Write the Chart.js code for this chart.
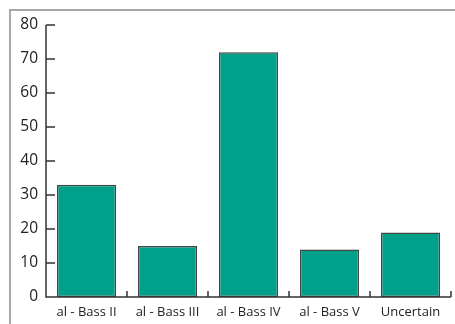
<!DOCTYPE html>
<html><head><meta charset="utf-8">
<script src="https://cdn.jsdelivr.net/npm/chart.js@4"></script>
<style>
html,body{margin:0;padding:0;background:#fff;overflow:hidden;}
#wrap{position:relative;width:455px;height:324px;}
#frame{position:absolute;left:9px;top:9px;width:500px;height:400px;border-left:2px solid #a8a8a8;border-top:2px solid #a8a8a8;pointer-events:none;}
canvas{position:absolute;left:0;top:0;}
</style></head>
<body><div id="wrap"><canvas id="c" width="455" height="324"></canvas><div id="frame"></div></div>
<script>
const categories = ["al - Bass II","al - Bass III","al - Bass IV","al - Bass V","Uncertain"];
const values = [33, 15, 72, 14, 19];
const yTicks = [0,10,20,30,40,50,60,70,80];

const innerTicks = {
  id:'innerTicks',
  afterDraw(chart){
    const ctx = chart.ctx, x = chart.scales.x, y = chart.scales.y;
    ctx.save();
    ctx.strokeStyle = '#333'; ctx.lineWidth = 1.5;
    ctx.beginPath();
    ctx.moveTo(x.left, y.top); ctx.lineTo(x.left, y.bottom); ctx.lineTo(x.right, y.bottom);
    yTicks.forEach(v=>{ const py = y.getPixelForValue(v); ctx.moveTo(x.left, py); ctx.lineTo(x.left+9, py); });
    const w = (x.right - x.left)/categories.length;
    categories.forEach((c,i)=>{ const px = x.getPixelForValue(i) + w/2; ctx.moveTo(px, y.bottom); ctx.lineTo(px, y.bottom-6); });
    ctx.stroke();
    ctx.restore();
  }
};

new Chart(document.getElementById('c'), {
  type:'bar',
  data:{ labels:categories, datasets:[{ data:values, backgroundColor:'#00a08b', borderColor:'#454545', borderWidth:1.5, borderSkipped:false, categoryPercentage:0.73, barPercentage:1 }]},
  options:{
    responsive:false, animation:false, devicePixelRatio:1,
    layout:{padding:{top:25,right:4,left:0,bottom:0}},
    plugins:{legend:{display:false}, tooltip:{enabled:false}},
    scales:{
      x:{ grid:{display:false, drawTicks:false}, border:{display:false},
          ticks:{color:'#222', font:{family:'Open Sans', size:13}, padding:7, maxRotation:0, autoSkip:false},
          afterFit(s){ s.height = 27; } },
      y:{ min:0, max:80, grid:{display:false, drawTicks:false}, border:{display:false},
          ticks:{stepSize:10, color:'#222', font:{family:'Open Sans', size:15.5}, padding:8},
          afterFit(s){ s.width = 46; } }
    }
  },
  plugins:[innerTicks]
});
</script></body></html>
